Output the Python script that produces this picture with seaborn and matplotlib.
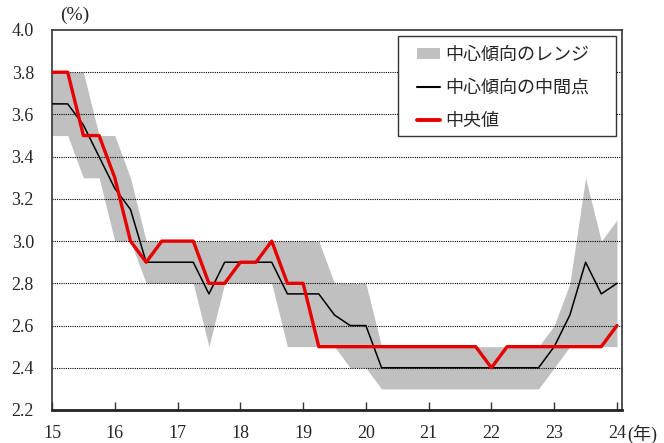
import numpy as np
import pandas as pd
import matplotlib
matplotlib.use("Agg")
import matplotlib.pyplot as plt
import seaborn as sns
from matplotlib.patches import Patch, Rectangle
from matplotlib.lines import Line2D

# ---- data (FOMC longer-run policy rate projections, quarterly 2015-2024) ----
years = [15 + k / 4 for k in range(37)]
median = [3.8, 3.8, 3.5, 3.5, 3.3, 3.0, 2.9, 3.0, 3.0, 3.0, 2.8, 2.8, 2.9, 2.9, 3.0, 2.8, 2.8,
          2.5, 2.5, 2.5, 2.5, 2.5, 2.5, 2.5, 2.5, 2.5, 2.5, 2.5, 2.4,
          2.5, 2.5, 2.5, 2.5, 2.5, 2.5, 2.5, 2.6]
midpoint = [3.65, 3.65, 3.55, 3.4, 3.25, 3.15, 2.9, 2.9, 2.9, 2.9, 2.75, 2.9, 2.9, 2.9, 2.9, 2.75, 2.75,
            2.75, 2.65, 2.6, 2.6, 2.4, 2.4, 2.4, 2.4, 2.4, 2.4, 2.4, 2.4,
            2.4, 2.4, 2.4, 2.5, 2.65, 2.9, 2.75, 2.8]
range_low = [3.5, 3.5, 3.3, 3.3, 3.0, 3.0, 2.8, 2.8, 2.8, 2.8, 2.5, 2.8, 2.8, 2.8, 2.8, 2.5, 2.5,
             2.5, 2.5, 2.4, 2.4, 2.3, 2.3, 2.3, 2.3, 2.3, 2.3, 2.3, 2.3,
             2.3, 2.3, 2.3, 2.4, 2.5, 2.5, 2.5, 2.5]
range_high = [3.8, 3.8, 3.8, 3.5, 3.5, 3.3, 3.0, 3.0, 3.0, 3.0, 3.0, 3.0, 3.0, 3.0, 3.0, 3.0, 3.0,
              3.0, 2.8, 2.8, 2.8, 2.5, 2.5, 2.5, 2.5, 2.5, 2.5, 2.5, 2.5,
              2.5, 2.5, 2.5, 2.6, 2.8, 3.3, 3.0, 3.1]
x_ticks = [15, 16, 17, 18, 19, 20, 21, 22, 23, 24]
x_ticklabels = ["15", "16", "17", "18", "19", "20", "21", "22", "23", "24"]
y_ticks = [2.2, 2.4, 2.6, 2.8, 3.0, 3.2, 3.4, 3.6, 3.8, 4.0]
legend_labels = ["中心傾向のレンジ", "中心傾向の中間点", "中央値"]

df = pd.DataFrame({"year": years, "median": median, "mid": midpoint,
                   "low": range_low, "high": range_high})

sns.set_theme(style="white")
plt.rcParams["font.family"] = ["Liberation Serif", "Noto Sans CJK JP", "DejaVu Sans"]

W, H = 664, 443
fig = plt.figure(figsize=(W / 100, H / 100), dpi=100)
ax = fig.add_axes([52 / W, 33 / H, 570 / W, 380 / H])

ax.fill_between(df["year"], df["low"], df["high"], color="#C0C0C0", linewidth=0, zorder=1)
sns.lineplot(data=df, x="year", y="mid", ax=ax, color="black", linewidth=1.1, zorder=3)
sns.lineplot(data=df, x="year", y="median", ax=ax, color="#E60000", linewidth=2.4, zorder=4)

ax.set_xlim(15, 24.08)
ax.set_ylim(2.2, 4.0)
ax.set_yticks(y_ticks)
ax.set_yticklabels([f"{v:.1f}" for v in y_ticks])
ax.set_xticks(x_ticks)
ax.set_xticklabels(x_ticklabels)
ax.set_xlabel("")
ax.set_ylabel("")

for v in y_ticks[1:-1]:
    ax.axhline(v, color="black", linewidth=0.8, linestyle=(0, (1, 1)), zorder=2)

ax.tick_params(axis="y", length=0, pad=13, labelsize=13)
ax.tick_params(axis="x", direction="in", length=6, width=1, color="#333333",
               pad=11, labelsize=13, bottom=True)

for side in ["left", "right", "top"]:
    ax.spines[side].set_color("#333333")
    ax.spines[side].set_linewidth(1.2)
ax.spines["bottom"].set_color("#222222")
ax.spines["bottom"].set_linewidth(2)

fig.text(75 / W, 1 - 15 / H, "(%)", ha="center", va="center", fontsize=14)
fig.text(627 / W, 1 - 434 / H, "(年)", ha="left", va="center", fontsize=13,
         family=["Liberation Serif", "Noto Sans CJK JP"])

# legend frame
frame = Rectangle((398 / W, 1 - 136 / H), 218 / W, 100 / H, transform=fig.transFigure,
                  facecolor="white", edgecolor="#333333", linewidth=1.0, zorder=5)
ax.add_patch(frame)

handles = [Patch(facecolor="#C0C0C0", edgecolor="none"),
           Line2D([0], [0], color="black", linewidth=1.5),
           Line2D([0], [0], color="#E60000", linewidth=2.8)]
leg = ax.legend(handles, legend_labels, loc="upper left",
                bbox_to_anchor=(417 / W, 1 - 46 / H), bbox_transform=fig.transFigure,
                frameon=False, prop={"family": ["Noto Sans CJK JP"], "size": 13},
                handlelength=1.3, handleheight=0.5, handletextpad=0.25,
                labelspacing=0.82, borderpad=0, borderaxespad=0)
leg.set_zorder(6)

fig.savefig("out.png", dpi=100)
